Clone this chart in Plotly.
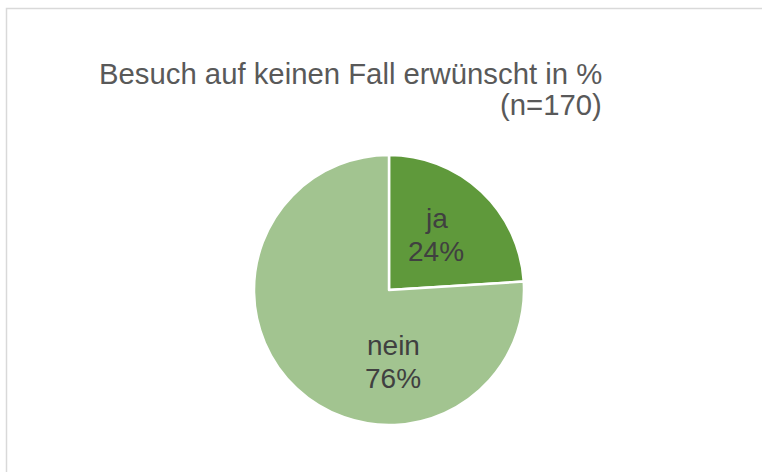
import plotly.graph_objects as go

labels = ["ja", "nein"]
values = [24, 76]
colors = ["#5F993B", "#A2C490"]
title_line1 = "Besuch auf keinen Fall erwünscht in %"
title_line2 = "(n=170)"

W, H = 762, 472
FONT = "Liberation Sans, Arial, sans-serif"

fig = go.Figure(go.Pie(
    labels=labels,
    values=values,
    sort=False,
    direction="clockwise",
    rotation=0,
    marker=dict(colors=colors, line=dict(color="white", width=2.5)),
    textinfo="none",
    domain=dict(x=[254 / W, 524 / W], y=[1 - 425 / H, 1 - 155 / H]),
    showlegend=False,
    hoverinfo="label+percent",
))

fig.add_annotation(x=604 / W, y=1 - 73 / H, xref="paper", yref="paper",
                   text=title_line1, showarrow=False, xanchor="right", yanchor="middle",
                   font=dict(family=FONT, size=29.3, color="#595959"))
fig.add_annotation(x=604 / W, y=1 - 105 / H, xref="paper", yref="paper",
                   text=title_line2, showarrow=False, xanchor="right", yanchor="middle",
                   font=dict(family=FONT, size=29.3, color="#595959"))

# slice labels (label + percentage computed from the values)
total = sum(values)
label_pos = [(436, 218), (393, 345)]
for lab, val, (px, py) in zip(labels, values, label_pos):
    pct = f"{round(100 * val / total)}%"
    fig.add_annotation(x=px / W, y=1 - py / H, xref="paper", yref="paper",
                       text=lab, showarrow=False, xanchor="center", yanchor="middle",
                       font=dict(family=FONT, size=28, color="#404040"))
    fig.add_annotation(x=px / W, y=1 - (py + 33) / H, xref="paper", yref="paper",
                       text=pct, showarrow=False, xanchor="center", yanchor="middle",
                       font=dict(family=FONT, size=28, color="#404040"))

fig.add_shape(type="rect", xref="paper", yref="paper",
              x0=6.5 / W, y0=-0.1, x1=1.1, y1=1 - 8.5 / H,
              line=dict(color="#D9D9D9", width=1.5), fillcolor="rgba(0,0,0,0)")

fig.update_layout(
    width=W, height=H,
    margin=dict(l=0, r=0, t=0, b=0),
    paper_bgcolor="white",
    plot_bgcolor="white",
)

fig.write_html("out.html",
               config={"displayModeBar": False},
               post_script="document.body.style.margin='0';document.body.style.overflow='hidden';")
